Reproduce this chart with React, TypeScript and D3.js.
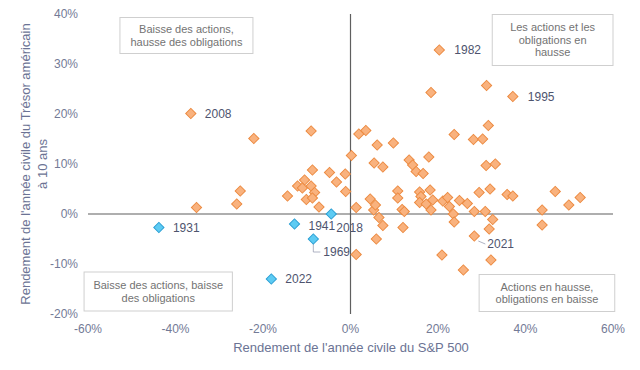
import React from "react";
import * as d3 from "d3";

// S&P 500 calendar-year return (%) vs 10-year US Treasury return (%)
const upYears: [number, number][] = [
  [20.3, 32.8], [31.1, 25.7], [18.4, 24.3], [37.1, 23.5], [-36.5, 20.1], [31.5, 17.7],
  [-22.1, 15.1], [-9.0, 16.6], [1.9, 16.0], [3.5, 16.7], [6.1, 13.8], [9.8, 14.2],
  [23.7, 15.9], [28.1, 14.9], [30.2, 15.0], [0.2, 11.7], [5.4, 10.2], [7.4, 9.4],
  [13.4, 10.8], [14.2, 9.8], [15.0, 8.5], [16.6, 8.1], [17.9, 11.4], [31.0, 9.7],
  [33.1, 10.0], [-8.7, 8.8], [-4.8, 8.3], [-1.2, 8.0], [-3.2, 6.4], [-1.1, 4.5],
  [-10.5, 6.8], [-12.1, 5.6], [-11.0, 5.2], [-9.0, 5.6], [-8.2, 4.3], [-14.4, 3.6],
  [-10.1, 2.9], [-8.7, 3.2], [-7.2, 1.4], [-25.2, 4.6], [-26.0, 2.0], [-35.2, 1.3],
  [1.3, 1.3], [4.5, 3.0], [5.3, 0.8], [5.7, 1.8], [6.5, -0.7], [7.4, -2.3],
  [5.9, -5.0], [1.3, -8.1], [10.8, 4.6], [10.8, 3.2], [11.8, 0.9], [12.3, 0.5],
  [12.0, -2.7], [15.8, 4.4], [16.1, 3.5], [15.8, 2.3], [17.3, 2.0], [18.2, 4.8],
  [18.8, 2.8], [18.4, 0.8], [21.1, 2.6], [22.2, 3.3], [22.6, 1.5], [23.5, 0.0],
  [23.7, -1.6], [24.9, 2.7], [26.7, 2.1], [28.3, 0.5], [30.8, 0.5], [32.5, -1.1],
  [31.7, -3.0], [28.3, -4.4], [20.9, -8.2], [25.8, -11.2], [32.1, -9.2], [29.4, 4.3],
  [31.9, 5.0], [35.8, 3.9], [37.1, 3.6], [43.8, 0.8], [43.8, -2.2], [46.8, 4.5],
  [49.9, 1.8], [52.5, 3.3],
];

const bothDown: [number, number][] = [
  [-43.8, -2.7], [-12.8, -2.0], [-4.4, 0.0], [-8.5, -5.0], [-18.1, -13.0],
];

type Label = { text: string; x: number; y: number; dx: number; dy: number; leader?: boolean };
const yearLabels: Label[] = [
  { text: "1982", x: 20.3, y: 32.8, dx: 15, dy: 0 },
  { text: "1995", x: 37.1, y: 23.5, dx: 15, dy: 0 },
  { text: "2008", x: -36.5, y: 20.1, dx: 14, dy: 0 },
  { text: "2021", x: 28.3, y: -4.4, dx: 13, dy: 8, leader: true },
  { text: "1931", x: -43.8, y: -2.7, dx: 14, dy: 0 },
  { text: "1941", x: -12.8, y: -2.0, dx: 14, dy: 2 },
  { text: "2018", x: -4.4, y: 0.0, dx: 5, dy: 14 },
  { text: "1969", x: -8.5, y: -5.0, dx: 10, dy: 13, leader: true },
  { text: "2022", x: -18.1, y: -13.0, dx: 14, dy: 0 },
];

const xTicks = [-60, -40, -20, 0, 20, 40, 60];
const yTicks = [-20, -10, 0, 10, 20, 30, 40];

type Box = { lines: string[]; x0: number; x1: number; y0: number; y1: number };
const quadrantBoxes: Box[] = [
  { lines: ["Baisse des actions,", "hausse des obligations"], x0: -52.7, x1: -22.3, y0: 39.3, y1: 32.1 },
  { lines: ["Les actions et les", "obligations en", "hausse"], x0: 32.4, x1: 60.0, y0: 39.9, y1: 29.7 },
  { lines: ["Baisse des actions, baisse", "des obligations"], x0: -60.9, x1: -27.0, y0: -11.6, y1: -19.4 },
  { lines: ["Actions en hausse,", "obligations en baisse"], x0: 29.4, x1: 60.4, y0: -12.1, y1: -19.5 },
];

const FONT = "'Liberation Sans', Arial, sans-serif";

export default function App() {
  const W = 640, H = 370;
  const x = d3.scaleLinear().domain([-60, 60]).range([88, 613]);
  const y = d3.scaleLinear().domain([-20, 40]).range([314, 14]);
  const diamond = d3.symbol().type(d3.symbolSquare).size(52)() as string;

  return (
    <div style={{ position: "absolute", left: 0, top: 0 }}>
      <svg width={W} height={H} style={{ display: "block", fontFamily: FONT }}>
        <rect width={W} height={H} fill="#fff" />
        {/* quadrant boxes */}
        {quadrantBoxes.map((b, i) => {
          const bx = x(b.x0), bw = x(b.x1) - x(b.x0);
          const by = y(b.y0), bh = y(b.y1) - y(b.y0);
          const cx = bx + bw / 2;
          const lh = 12.4;
          const start = by + bh / 2 - ((b.lines.length - 1) * lh) / 2;
          return (
            <g key={i}>
              <rect x={bx} y={by} width={bw} height={bh} fill="#fff" stroke="#cfcfcf" strokeWidth={1} />
              {b.lines.map((l, j) => (
                <text key={j} x={cx} y={start + j * lh} dy="0.35em" textAnchor="middle" fontSize={11} fill="#737373">
                  {l}
                </text>
              ))}
            </g>
          );
        })}
        {/* axes lines */}
        <line x1={x(-60)} x2={x(60)} y1={y(0)} y2={y(0)} stroke="#5f5f5f" strokeWidth={1.2} />
        <line x1={x(0)} x2={x(0)} y1={y(40)} y2={y(-20)} stroke="#5f5f5f" strokeWidth={1.2} />
        {/* tick labels */}
        {xTicks.map((t) => (
          <text key={"x" + t} x={x(t)} y={329} dy="0.35em" textAnchor="middle" fontSize={12} fill="#737a96">
            {t + "%"}
          </text>
        ))}
        {yTicks.map((t) => (
          <text key={"y" + t} x={78} y={y(t)} dy="0.35em" textAnchor="end" fontSize={12} fill="#737a96">
            {t + "%"}
          </text>
        ))}
        {/* axis titles */}
        <text x={351} y={347} dy="0.35em" textAnchor="middle" fontSize={13} fill="#6b7394">
          Rendement de l'année civile du S&amp;P 500
        </text>
        <g transform="translate(25,164) rotate(-90)">
          <text x={0} y={0} dy="0.35em" textAnchor="middle" fontSize={13} fill="#6b7394">
            Rendement de l'année civile du Trésor américain
          </text>
          <text x={0} y={17} dy="0.35em" textAnchor="middle" fontSize={13} fill="#6b7394">
            à 10 ans
          </text>
        </g>
        {/* leader lines */}
        {yearLabels.filter((l) => l.leader).map((l) => {
          const px = x(l.x), py = y(l.y);
          return l.text === "1969" ? (
            <path key={"ld" + l.text} d={`M${px},${py + 4}V${py + l.dy}H${px + l.dx - 3}`} fill="none" stroke="#9aa0b4" strokeWidth={0.8} />
          ) : (
            <path key={"ld" + l.text} d={`M${px + 4},${py + 5}L${px + l.dx - 2},${py + l.dy}`} fill="none" stroke="#9aa0b4" strokeWidth={0.8} />
          );
        })}
        {/* points */}
        {upYears.map(([a, b], i) => (
          <path key={"o" + i} d={diamond} transform={`translate(${x(a)},${y(b)}) rotate(45)`} fill="#f9b27e" stroke="#ec8a40" strokeWidth={1} />
        ))}
        {bothDown.map(([a, b], i) => (
          <path key={"b" + i} d={diamond} transform={`translate(${x(a)},${y(b)}) rotate(45)`} fill="#5dcbf3" stroke="#2a9fd4" strokeWidth={1} />
        ))}
        {/* labels */}
        {yearLabels.map((l) => (
          <text key={"t" + l.text} x={x(l.x) + l.dx} y={y(l.y) + l.dy} dy="0.35em" fontSize={12} fill="#4e546e">
            {l.text}
          </text>
        ))}
      </svg>
    </div>
  );
}
